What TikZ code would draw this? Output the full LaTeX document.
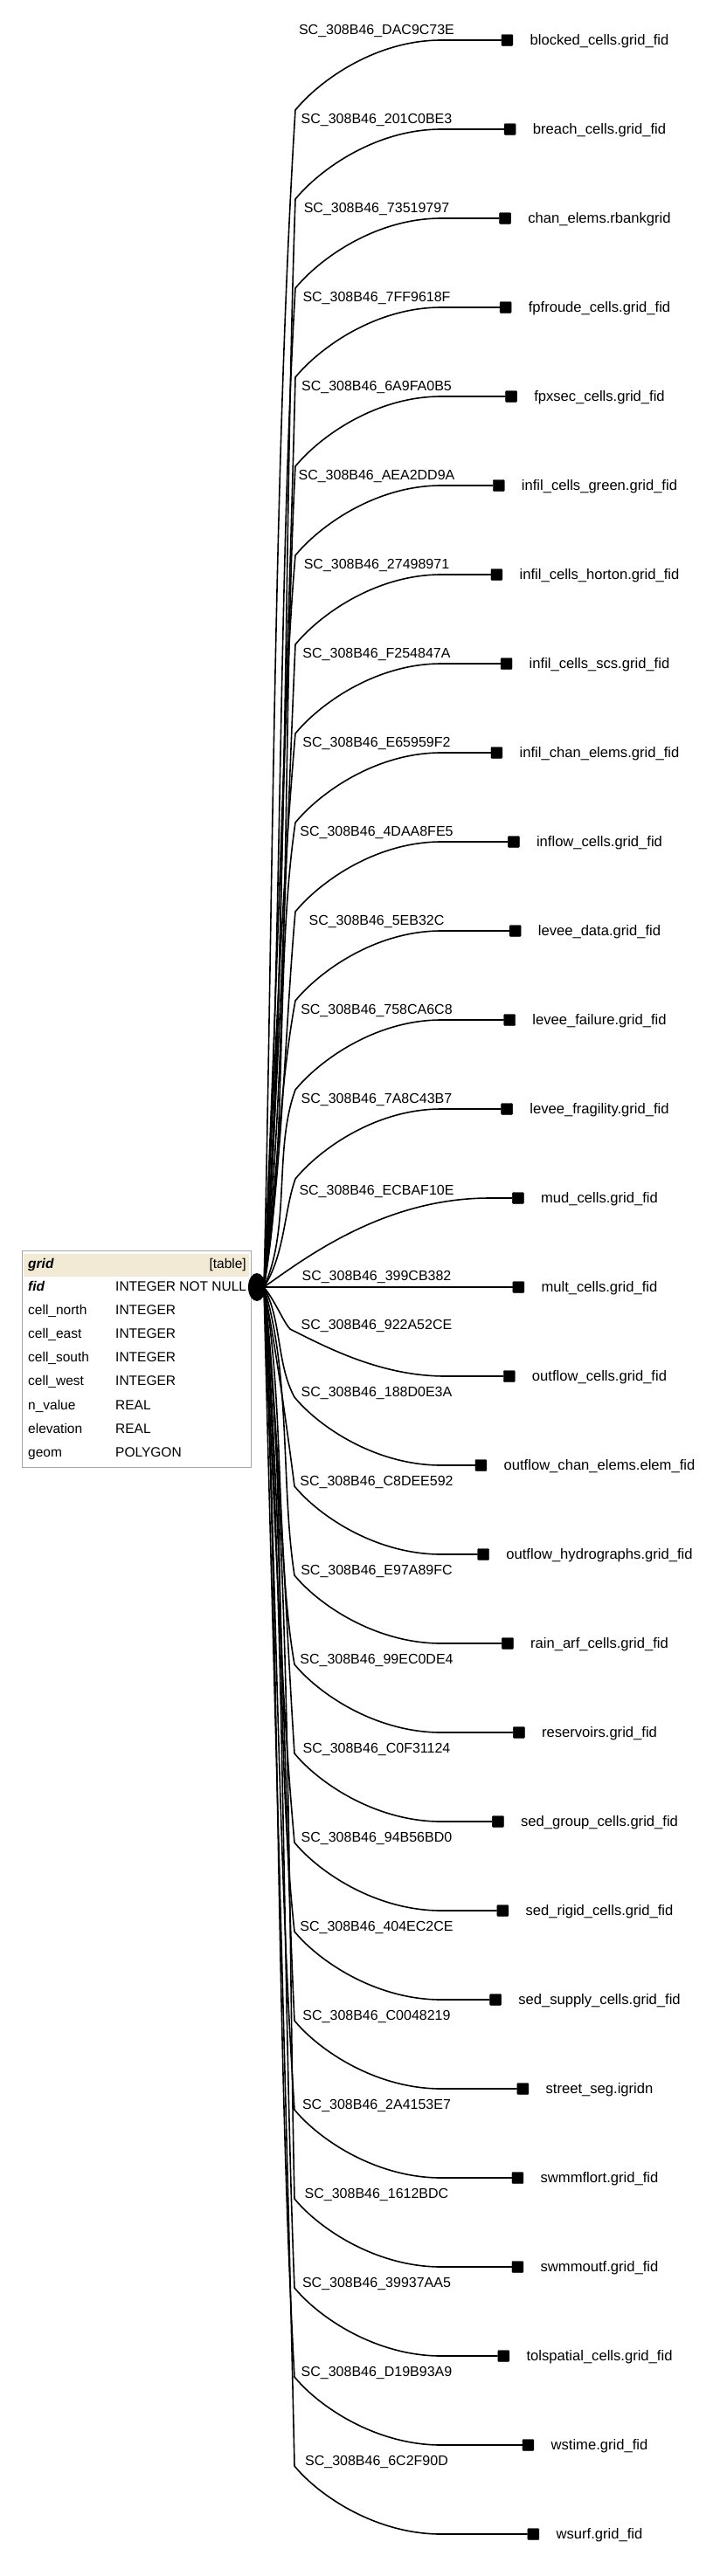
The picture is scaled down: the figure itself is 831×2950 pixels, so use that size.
\documentclass[tikz,border=0pt]{standalone}
\usepackage{fontspec}
\setmainfont{Liberation Sans}
\usetikzlibrary{calc,shapes.geometric}
\definecolor{headfill}{RGB}{242,234,212}
\definecolor{boxgray}{RGB}{165,165,165}
\begin{document}
\begin{tikzpicture}[x=1pt,y=-1pt,
  conn/.style={line width=1.6pt,black},
  lab/.style={font=\fontsize{16}{19}\selectfont,inner sep=0pt,anchor=base},
  tlab/.style={font=\fontsize{16.6}{19}\selectfont,inner sep=0pt,anchor=base},
  tabtxt/.style={font=\fontsize{15.5}{18}\selectfont,inner sep=0pt},
  endsq/.style={fill=black,draw=black,minimum size=13pt,inner sep=0pt,rounded corners=1pt},
  hubblob/.style={fill=black,ellipse,minimum width=20pt,minimum height=32pt,inner sep=0pt}]
\useasboundingbox (0,0) rectangle (831,2950);
% table
\node[draw=boxgray,line width=1.3pt,minimum width=262pt,minimum height=248pt,anchor=north west,inner sep=0pt] (grid) at (25,1432) {};
\node[fill=headfill,minimum width=258pt,minimum height=26pt,anchor=north west,inner sep=0pt] (gridhead) at (27,1436) {};
\node[tabtxt,anchor=base west] (hname) at (32,1452) {\bfseries\itshape grid};
\node[tabtxt,anchor=base east] (htype) at (282,1452) {[table]};
\foreach \k/\nm/\ty in {0/{\bfseries\itshape fid}/INTEGER NOT NULL,1/cell\_north/INTEGER,2/cell\_east/INTEGER,3/cell\_south/INTEGER,4/cell\_west/INTEGER,5/n\_value/REAL,6/elevation/REAL,7/geom/POLYGON}{
  \node[tabtxt,anchor=base west] (rn\k) at (32,{1478+27.2*\k}) {\nm};
  \node[tabtxt,anchor=base west] (rt\k) at (132,{1478+27.2*\k}) {\ty};
}
% hub
\node[hubblob] (hub) at (294,1474) {};
\coordinate (src) at (302,1474);
% relations
\foreach \i/\sc/\tg in {
0/DAC9C73E/blocked\_cells.grid\_fid,
1/201C0BE3/breach\_cells.grid\_fid,
2/73519797/chan\_elems.rbankgrid,
3/7FF9618F/fpfroude\_cells.grid\_fid,
4/6A9FA0B5/fpxsec\_cells.grid\_fid,
5/AEA2DD9A/infil\_cells\_green.grid\_fid,
6/27498971/infil\_cells\_horton.grid\_fid,
7/F254847A/infil\_cells\_scs.grid\_fid,
8/E65959F2/infil\_chan\_elems.grid\_fid,
9/4DAA8FE5/inflow\_cells.grid\_fid,
10/5EB32C/levee\_data.grid\_fid,
11/758CA6C8/levee\_failure.grid\_fid,
12/7A8C43B7/levee\_fragility.grid\_fid,
13/ECBAF10E/mud\_cells.grid\_fid,
14/399CB382/mult\_cells.grid\_fid,
15/922A52CE/outflow\_cells.grid\_fid,
16/188D0E3A/outflow\_chan\_elems.elem\_fid,
17/C8DEE592/outflow\_hydrographs.grid\_fid,
18/E97A89FC/rain\_arf\_cells.grid\_fid,
19/99EC0DE4/reservoirs.grid\_fid,
20/C0F31124/sed\_group\_cells.grid\_fid,
21/94B56BD0/sed\_rigid\_cells.grid\_fid,
22/404EC2CE/sed\_supply\_cells.grid\_fid,
23/C0048219/street\_seg.igridn,
24/2A4153E7/swmmflort.grid\_fid,
25/1612BDC/swmmoutf.grid\_fid,
26/39937AA5/tolspatial\_cells.grid\_fid,
27/D19B93A9/wstime.grid\_fid,
28/6C2F90D/wsurf.grid\_fid}{
  \pgfmathsetmacro\yt{46+102*\i}
  \pgfmathsetmacro\pa{312+mod(\i*5,7)*3.5}
  \pgfmathsetmacro\pb{313+mod(\i*7,11)*1.7}
  \node[tlab] (t\i) at (686,\yt+5) {\tg};
  \node[endsq] (s\i) at ($(t\i.base west)+(-26,-5)$) {};
  \ifnum\i<13
    \pgfmathsetmacro\ky{\yt+80}
    \pgfmathsetmacro\L{1474-\ky}
    \node[lab] (l\i) at (431,\yt-7) {SC\_308B46\_\sc};
    \draw[conn] (src) .. controls (\pa,{1474-0.3*\L}) and (\pb,{\ky+0.3*\L}) .. (338,\ky)
       .. controls +(28,-34) and +(-75,0) .. (505,\yt) -- (s\i.west);
  \else\ifnum\i=13
    \node[lab] (l\i) at (431,\yt-4) {SC\_308B46\_\sc};
    \draw[conn] (src) .. controls (350,1440) and (440,\yt) .. (560,\yt) -- (s\i.west);
  \else\ifnum\i=14
    \node[lab] (l\i) at (431,\yt-8) {SC\_308B46\_\sc};
    \draw[conn] (src) -- (s\i.west);
  \else\ifnum\i=15
    \node[lab] (l\i) at (431,\yt-54) {SC\_308B46\_\sc};
    \draw[conn] (src) .. controls (315,1490) and (325,1515) .. (332,1522)
       .. controls +(40,20) and +(-75,0) .. (510,\yt) -- (s\i.west);
  \else
    \pgfmathsetmacro\ky{\yt-78}
    \pgfmathsetmacro\L{\ky-1474}
    \node[lab] (l\i) at (431,\yt-79) {SC\_308B46\_\sc};
    \draw[conn] (src) .. controls (\pa,{1474+0.3*\L}) and (\pb,{\ky-0.3*\L}) .. (337,\ky)
       .. controls +(28,34) and +(-75,0) .. (505,\yt) -- (s\i.west);
  \fi\fi\fi\fi
}
\end{tikzpicture}
\end{document}
